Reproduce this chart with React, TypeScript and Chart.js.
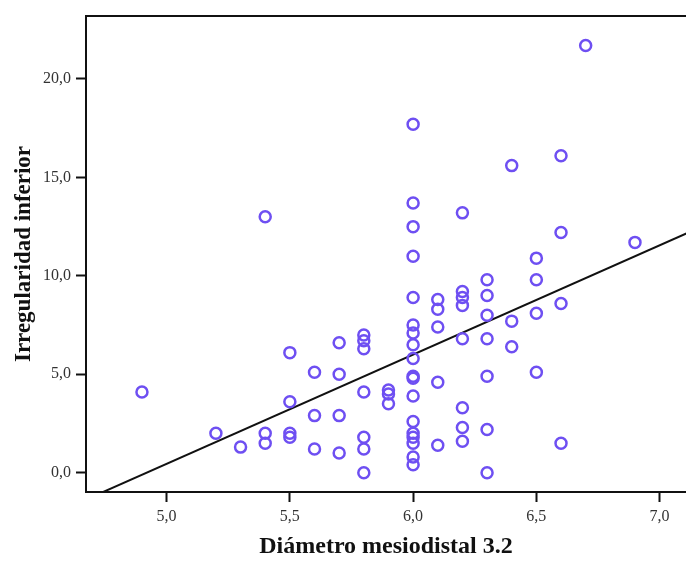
import React, { useEffect, useRef } from "react";
import { Chart, registerables } from "chart.js";

Chart.register(...registerables);

// Diámetro mesiodistal 3.2 (x) and Irregularidad inferior (y)
const diametro: number[] = [
  4.9,
  5.2,
  5.3,
  5.4, 5.4, 5.4,
  5.5, 5.5, 5.5, 5.5,
  5.6, 5.6, 5.6,
  5.7, 5.7, 5.7, 5.7,
  5.8, 5.8, 5.8, 5.8, 5.8, 5.8, 5.8,
  5.9, 5.9, 5.9,
  6.0, 6.0, 6.0, 6.0, 6.0, 6.0, 6.0, 6.0, 6.0, 6.0, 6.0, 6.0, 6.0, 6.0, 6.0, 6.0, 6.0, 6.0,
  6.1, 6.1, 6.1, 6.1, 6.1,
  6.2, 6.2, 6.2, 6.2, 6.2, 6.2, 6.2, 6.2,
  6.3, 6.3, 6.3, 6.3, 6.3, 6.3, 6.3,
  6.4, 6.4, 6.4,
  6.5, 6.5, 6.5, 6.5,
  6.6, 6.6, 6.6, 6.6,
  6.7,
  6.9,
];

const irregularidad: number[] = [
  4.1,
  2.0,
  1.3,
  13.0, 2.0, 1.5,
  6.1, 3.6, 2.0, 1.8,
  5.1, 2.9, 1.2,
  6.6, 5.0, 2.9, 1.0,
  7.0, 6.7, 6.3, 4.1, 1.8, 1.2, 0.0,
  4.2, 4.0, 3.5,
  17.7, 13.7, 12.5, 11.0, 8.9, 7.5, 7.1, 6.5, 5.8, 4.9, 4.8, 3.9, 2.6, 2.0, 1.8, 1.5, 0.8, 0.4,
  8.8, 8.3, 7.4, 4.6, 1.4,
  13.2, 9.2, 8.9, 8.5, 6.8, 3.3, 2.3, 1.6,
  9.8, 9.0, 8.0, 6.8, 4.9, 2.2, 0.0,
  15.6, 7.7, 6.4,
  10.9, 9.8, 8.1, 5.1,
  16.1, 12.2, 8.6, 1.5,
  21.7,
  11.7,
];

// Linear fit line (y = slope * x + intercept), drawn between these x values
const fitSlope = 5.55;
const fitIntercept = -27.3;
const fitRange: number[] = [4.6, 7.2];

const xTicks: number[] = [5.0, 5.5, 6.0, 6.5, 7.0];
const yTicks: number[] = [0, 5, 10, 15, 20];

const xTitle = "Diámetro mesiodistal 3.2";
const yTitle = "Irregularidad inferior";

const fmt = (v: number) => v.toFixed(1).replace(".", ",");
const SERIF = "'Liberation Serif', 'Times New Roman', serif";

export default function App() {
  const ref = useRef<HTMLCanvasElement | null>(null);

  useEffect(() => {
    if (!ref.current) return;
    const points = diametro.map((x, i) => ({ x, y: irregularidad[i] }));
    const fit = fitRange.map((x) => ({ x, y: fitSlope * x + fitIntercept }));

    const topBorder = {
      id: "topBorder",
      afterDatasetsDraw(chart: any) {
        const { ctx, chartArea } = chart;
        ctx.save();
        ctx.strokeStyle = "#111";
        ctx.lineWidth = 2;
        ctx.beginPath();
        ctx.moveTo(chartArea.left - 1, chartArea.top);
        ctx.lineTo(chartArea.right, chartArea.top);
        ctx.stroke();
        ctx.restore();
      },
    };

    const chart = new Chart(ref.current, {
      type: "scatter",
      data: {
        datasets: [
          {
            type: "line",
            data: fit,
            borderColor: "#111",
            borderWidth: 2,
            pointRadius: 0,
            fill: false,
            order: 1,
          } as any,
          {
            data: points,
            pointStyle: "circle",
            pointRadius: 5.5,
            borderWidth: 2.5,
            borderColor: "#6e4ff2",
            backgroundColor: "rgba(0,0,0,0)",
            order: 0,
          },
        ],
      },
      plugins: [topBorder],
      options: {
        animation: false,
        responsive: false,
        maintainAspectRatio: false,
        layout: { autoPadding: false, padding: { top: 16, right: 0, left: 0, bottom: 0 } },
        plugins: {
          legend: { display: false },
          tooltip: { enabled: false },
        },
        scales: {
          x: {
            type: "linear",
            min: 4.673,
            max: 7.107,
            afterFit: (axis: any) => {
              axis.height = 69;
              axis.paddingLeft = 0;
              axis.paddingRight = 0;
            },
            afterBuildTicks: (axis: any) => {
              axis.ticks = xTicks.map((v) => ({ value: v }));
            },
            border: { display: true, color: "#111", width: 2 },
            grid: {
              display: true,
              drawOnChartArea: false,
              drawTicks: true,
              tickLength: 10,
              tickWidth: 2,
              tickColor: "#111",
            },
            ticks: {
              padding: 5,
              color: "#333",
              font: { family: SERIF, size: 16 },
              callback: (v: any) => fmt(Number(v)),
            },
            title: {
              display: true,
              text: xTitle,
              color: "#111",
              padding: { top: 0, bottom: 0 },
              font: { family: SERIF, size: 24, weight: "bold" },
            },
          },
          y: {
            type: "linear",
            min: -0.98,
            max: 23.2,
            afterFit: (axis: any) => {
              axis.width = 86;
              axis.paddingTop = 0;
              axis.paddingBottom = 0;
            },
            afterBuildTicks: (axis: any) => {
              axis.ticks = yTicks.map((v) => ({ value: v }));
            },
            border: { display: true, color: "#111", width: 2 },
            grid: {
              display: true,
              drawOnChartArea: false,
              drawTicks: true,
              tickLength: 10,
              tickWidth: 2,
              tickColor: "#111",
            },
            ticks: {
              padding: 5,
              color: "#333",
              font: { family: SERIF, size: 16 },
              callback: (v: any) => fmt(Number(v)),
            },
            title: {
              display: true,
              text: yTitle,
              color: "#111",
              padding: { top: 10, bottom: 0 },
              font: { family: SERIF, size: 23, weight: "bold" },
            },
          },
        },
      },
    });
    return () => chart.destroy();
  }, []);

  return (
    <div style={{ position: "fixed", left: 0, top: 0, width: 686, height: 561, background: "#fff" }}>
      <canvas ref={ref} width={686} height={561} style={{ display: "block" }} />
    </div>
  );
}
